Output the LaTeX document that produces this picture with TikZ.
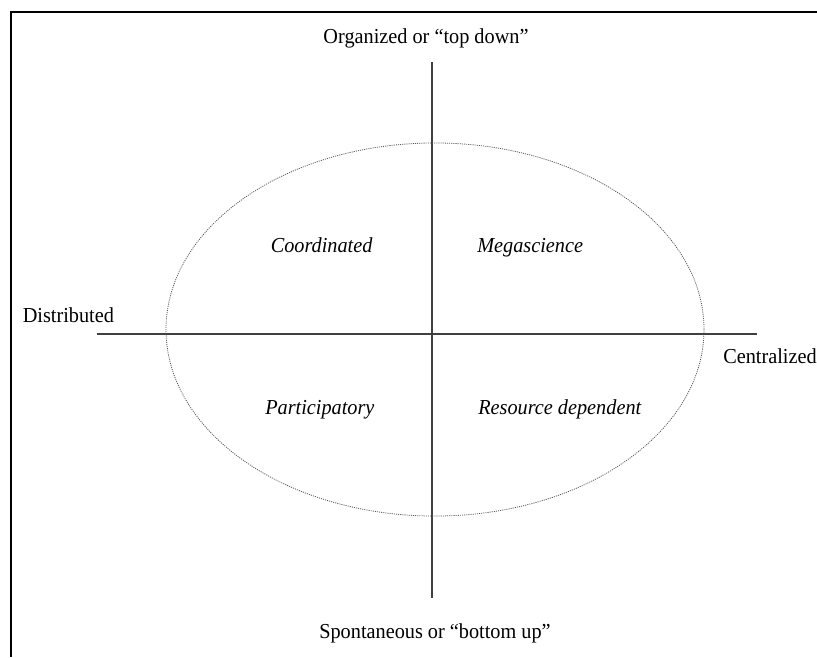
\documentclass[tikz,border=0pt]{standalone}
\usepackage{fontspec}
\setmainfont{Liberation Serif}[FakeStretch=0.95]
\begin{document}
\begin{tikzpicture}[x=0.75pt,y=-0.75pt,
  lbl/.style={font=\fontsize{16}{19}\selectfont, inner sep=0pt},
  quad/.style={font=\fontsize{16}{19}\selectfont\itshape, inner sep=0pt},
  axis/.style={line width=0.9pt, black!75},
  oval/.style={line width=0.6pt, black!65, dash pattern=on 0.8pt off 0.8pt},
  frame/.style={line width=1.5pt, black}]
\useasboundingbox (0,0) rectangle (817,657);
% frame (top and left)
\draw[frame] (11,657) -- (11,12) -- (817,12);
% axes
\coordinate (vtop) at (432,62);
\coordinate (vbot) at (432,598);
\coordinate (hleft) at (97,334);
\coordinate (hright) at (757,334);
\draw[axis] (vtop) -- (vbot);
\draw[axis] (hleft) -- (hright);
% ellipse
\coordinate (ec) at (435,329.5);
\draw[oval] (ec) ellipse [x radius=201.75pt, y radius=139.9pt];
% axis labels
\node[lbl, anchor=base] (org) at (426,43) {Organized or “top down”};
\node[lbl, anchor=base] (spo) at (435,638) {Spontaneous or “bottom up”};
\node[lbl, anchor=base west] (dis) at (22.5,322) {Distributed};
\node[lbl, anchor=base west] (cen) at (723,363) {Centralized};
% quadrant labels
\node[quad, anchor=base west] (coo) at (270.5,252) {Coordinated};
\node[quad, anchor=base west] (meg) at (477,252) {Megascience};
\node[quad, anchor=base west] (par) at (265,414) {Participatory};
\node[quad, anchor=base west] (res) at (478,414) {Resource dependent};
\end{tikzpicture}
\end{document}
